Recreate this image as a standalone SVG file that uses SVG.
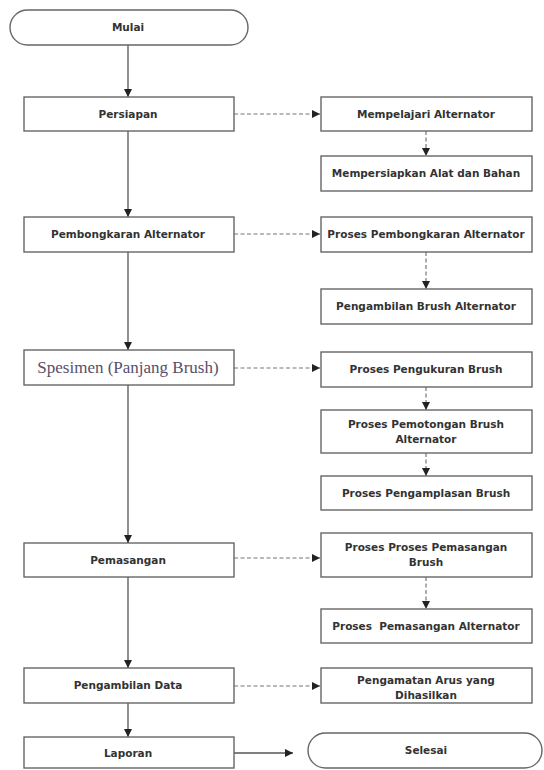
<svg xmlns="http://www.w3.org/2000/svg" width="544" height="770" viewBox="0 0 544 770">
<defs>
<marker id="ah" viewBox="0 0 10 10" refX="10" refY="5" markerWidth="8" markerHeight="8" markerUnits="userSpaceOnUse" orient="auto">
<path d="M0,0 L10,5 L0,10 Z" fill="#222"/>
</marker>
</defs>
<style>
.box{fill:#fff;stroke:#666;stroke-width:1.4}
.t{font-family:"DejaVu Sans","Liberation Sans",sans-serif;font-size:10.5px;font-weight:bold;fill:#333;text-anchor:middle}
.s{font-family:"Liberation Serif","Times New Roman",serif;font-size:17px;fill:#55506a;text-anchor:middle}
.solid{stroke:#555;stroke-width:1.3;fill:none}
.dash{stroke:#777;stroke-width:1.2;fill:none;stroke-dasharray:4 2.5}
</style>
<rect width="544" height="770" fill="#fff"/>
<g id="connectors">
<line class="solid" x1="128" y1="45" x2="128" y2="97" marker-end="url(#ah)"/>
<line class="solid" x1="128" y1="131" x2="128" y2="217" marker-end="url(#ah)"/>
<line class="solid" x1="128" y1="252" x2="128" y2="350" marker-end="url(#ah)"/>
<line class="solid" x1="128" y1="385" x2="128" y2="543" marker-end="url(#ah)"/>
<line class="solid" x1="128" y1="577" x2="128" y2="668" marker-end="url(#ah)"/>
<line class="solid" x1="128" y1="703" x2="128" y2="737" marker-end="url(#ah)"/>
<line class="solid" x1="234" y1="753" x2="293" y2="753" marker-end="url(#ah)"/>
<line class="dash" x1="234" y1="114" x2="320" y2="114" marker-end="url(#ah)"/>
<line class="dash" x1="234" y1="234" x2="320" y2="234" marker-end="url(#ah)"/>
<line class="dash" x1="234" y1="368" x2="320" y2="368" marker-end="url(#ah)"/>
<line class="dash" x1="234" y1="558" x2="320" y2="558" marker-end="url(#ah)"/>
<line class="dash" x1="234" y1="686" x2="320" y2="686" marker-end="url(#ah)"/>
<line class="dash" x1="426" y1="131" x2="426" y2="156" marker-end="url(#ah)"/>
<line class="dash" x1="426" y1="252" x2="426" y2="289" marker-end="url(#ah)"/>
<line class="dash" x1="426" y1="387" x2="426" y2="410" marker-end="url(#ah)"/>
<line class="dash" x1="426" y1="453" x2="426" y2="476" marker-end="url(#ah)"/>
<line class="dash" x1="426" y1="577" x2="426" y2="609" marker-end="url(#ah)"/>
</g>
<g id="mulai"><rect class="box" x="10" y="10" width="238" height="35" rx="17.5"/><text class="t" x="128" y="31">Mulai</text></g>
<g id="persiapan"><rect class="box" x="24" y="97" width="210" height="34"/><text class="t" x="128" y="118">Persiapan</text></g>
<g id="pembongkaran"><rect class="box" x="24" y="217" width="210" height="35"/><text class="t" x="128" y="238">Pembongkaran Alternator</text></g>
<g id="spesimen"><rect class="box" x="24" y="350" width="210" height="35"/><text class="s" x="128" y="373">Spesimen (Panjang Brush)</text></g>
<g id="pemasangan"><rect class="box" x="24" y="543" width="210" height="34"/><text class="t" x="128" y="564">Pemasangan</text></g>
<g id="pengambilan-data"><rect class="box" x="24" y="668" width="210" height="35"/><text class="t" x="128" y="689">Pengambilan Data</text></g>
<g id="laporan"><rect class="box" x="24" y="737" width="210" height="31"/><text class="t" x="128" y="757">Laporan</text></g>
<g id="selesai"><rect class="box" x="308" y="733" width="234" height="35" rx="17.5"/><text class="t" x="426" y="754">Selesai</text></g>
<g id="mempelajari"><rect class="box" x="321" y="97" width="211" height="34"/><text class="t" x="426" y="118">Mempelajari Alternator</text></g>
<g id="mempersiapkan"><rect class="box" x="321" y="156" width="211" height="35"/><text class="t" x="426" y="177">Mempersiapkan Alat dan Bahan</text></g>
<g id="proses-pembongkaran"><rect class="box" x="321" y="217" width="211" height="35"/><text class="t" x="426" y="238">Proses Pembongkaran Alternator</text></g>
<g id="pengambilan-brush"><rect class="box" x="321" y="289" width="211" height="35"/><text class="t" x="426" y="310">Pengambilan Brush Alternator</text></g>
<g id="pengukuran"><rect class="box" x="321" y="352" width="211" height="35"/><text class="t" x="426" y="373">Proses Pengukuran Brush</text></g>
<g id="pemotongan"><rect class="box" x="321" y="410" width="211" height="43"/><text class="t" x="426" y="428">Proses Pemotongan Brush</text><text class="t" x="426" y="443">Alternator</text></g>
<g id="pengamplasan"><rect class="box" x="321" y="476" width="211" height="34"/><text class="t" x="426" y="497">Proses Pengamplasan Brush</text></g>
<g id="pemasangan-brush"><rect class="box" x="321" y="533" width="211" height="44"/><text class="t" x="426" y="551">Proses Proses Pemasangan</text><text class="t" x="426" y="566">Brush</text></g>
<g id="pemasangan-alternator"><rect class="box" x="321" y="609" width="211" height="34"/><text class="t" x="426" y="630" style="white-space:pre">Proses  Pemasangan Alternator</text></g>
<g id="pengamatan"><rect class="box" x="321" y="668" width="211" height="35"/><text class="t" x="426" y="684">Pengamatan Arus yang</text><text class="t" x="426" y="699">Dihasilkan</text></g>
</svg>
